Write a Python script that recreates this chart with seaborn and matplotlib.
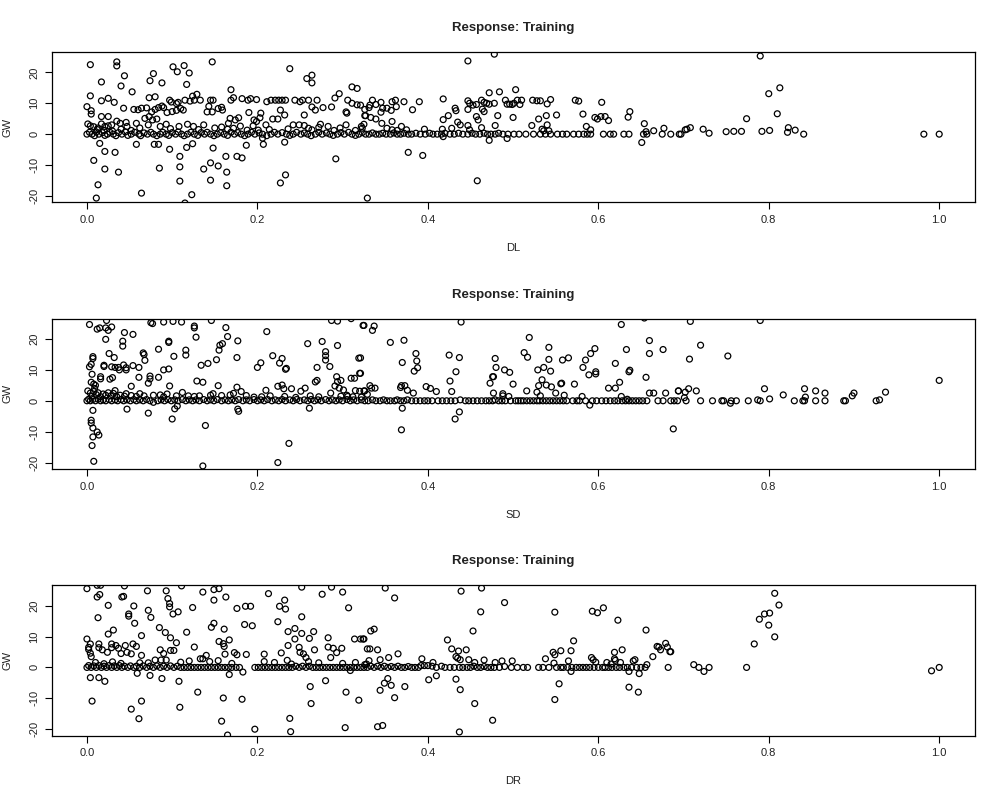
import matplotlib
matplotlib.use("Agg")
import matplotlib.pyplot as plt
import seaborn as sns
import pandas as pd

# ---- data: (predictor, GW) pairs ----
# panel 1: DL
dl_scatter = [
    (0.004, 22.5), (0.035, 23.4), (0.035, 22.1), (0.017, 16.9), (0.044, 18.9), (0.040, 15.6),
    (0.053, 13.7), (0.004, 12.4), (0.017, 10.8), (0.025, 11.6), (0.032, 10.3), (0.000, 8.9),
    (0.005, 7.6), (0.005, 6.5), (0.043, 8.4), (0.017, 5.7), (0.025, 5.7), (0.055, 8.0),
    (0.060, 7.9), (0.064, 8.4), (0.074, 17.3), (0.078, 19.6), (0.088, 16.6), (0.073, 11.8),
    (0.080, 12.1), (0.070, 8.5), (0.076, 7.2), (0.080, 8.0), (0.068, 5.1), (0.073, 5.7),
    (0.077, 4.6), (0.082, 4.9), (0.101, 21.8), (0.114, 22.2), (0.120, 19.8), (0.117, 16.1),
    (0.106, 20.2), (0.097, 11.0), (0.099, 10.4), (0.105, 9.9), (0.107, 10.3), (0.124, 12.3),
    (0.129, 12.9), (0.115, 11.0), (0.121, 10.7), (0.126, 11.0), (0.133, 11.0), (0.090, 8.6),
    (0.094, 7.0), (0.100, 7.3), (0.105, 7.7), (0.110, 8.3), (0.113, 7.8), (0.088, 9.1),
    (0.084, 8.6), (0.147, 23.4), (0.169, 14.4), (0.145, 11.0), (0.148, 11.0), (0.143, 9.0),
    (0.141, 7.2), (0.147, 7.2), (0.154, 8.3), (0.158, 8.7), (0.159, 7.8), (0.169, 11.0),
    (0.172, 11.8), (0.182, 11.5), (0.189, 11.0), (0.192, 11.5), (0.199, 11.2), (0.168, 5.1),
    (0.174, 4.6), (0.178, 5.3), (0.166, 3.5), (0.172, 1.9), (0.190, 7.0), (0.196, 4.6),
    (0.199, 4.1), (0.204, 6.8), (0.203, 5.3), (0.211, 10.5), (0.216, 11.0), (0.221, 11.0),
    (0.225, 11.0), (0.229, 11.0), (0.233, 11.0), (0.218, 4.9), (0.224, 4.9), (0.227, 7.8),
    (0.232, 6.2), (0.238, 21.2), (0.258, 18.0), (0.264, 19.1), (0.264, 16.6), (0.244, 11.0),
    (0.250, 10.5), (0.253, 11.0), (0.260, 11.0), (0.270, 11.0), (0.255, 6.2), (0.264, 8.8),
    (0.268, 7.8), (0.277, 8.6), (0.287, 8.8), (0.291, 11.7), (0.296, 13.1), (0.242, 3.0),
    (0.249, 3.0), (0.255, 2.8), (0.260, 1.9), (0.264, 1.4), (0.272, 2.2), (0.274, 3.2),
    (0.311, 15.3), (0.317, 14.8), (0.306, 11.0), (0.311, 10.0), (0.317, 9.5), (0.304, 7.2),
    (0.305, 6.8), (0.326, 6.0), (0.326, 8.0),
    (0.015, -3.0), (0.008, -8.5), (0.021, -5.6), (0.033, -5.9), (0.021, -11.3), (0.037, -12.3),
    (0.013, -16.4), (0.011, -20.7), (0.064, -19.1), (0.058, -3.3), (0.079, -3.3), (0.084, -3.3),
    (0.097, -4.9), (0.085, -11.0), (0.109, -7.2), (0.109, -10.6), (0.109, -15.2), (0.117, -4.3),
    (0.124, -3.1), (0.123, -19.6), (0.115, -22.3), (0.148, -4.5), (0.154, -10.3), (0.145, -9.3),
    (0.137, -11.3), (0.145, -14.9), (0.164, -12.3), (0.164, -16.7), (0.163, -7.2), (0.176, -7.2),
    (0.182, -7.7), (0.187, -3.6), (0.207, -3.3), (0.206, -1.3), (0.227, -15.8), (0.233, -13.2),
    (0.232, -2.6), (0.292, -8.0), (0.329, -20.7),
    (0.001, 3.3), (0.004, 2.7), (0.008, 2.4), (0.013, 2.0), (0.017, 3.3), (0.021, 2.5),
    (0.025, 2.7), (0.029, 3.0), (0.035, 4.2), (0.039, 3.5), (0.046, 3.8), (0.047, 2.5),
    (0.012, 1.5), (0.020, 1.2), (0.030, 1.0), (0.040, 1.6), (0.052, 1.2), (0.058, 3.5),
    (0.062, 2.0), (0.072, 3.0), (0.086, 2.5), (0.093, 3.2), (0.098, 1.8), (0.108, 2.5),
    (0.118, 3.2), (0.125, 2.5), (0.131, 1.5), (0.137, 3.0), (0.150, 2.0), (0.158, 2.3),
    (0.165, 1.6), (0.180, 2.6), (0.188, 1.3), (0.195, 2.7), (0.201, 1.3), (0.210, 3.0),
    (0.214, 1.5), (0.236, 1.7), (0.283, 2.5), (0.290, 1.2), (0.297, 2.0), (0.304, 3.0),
    (0.315, 1.2), (0.322, 2.5),
    (0.321, 9.4), (0.335, 11.0), (0.332, 9.4), (0.331, 8.6), (0.339, 9.6), (0.345, 10.3),
    (0.347, 8.4), (0.352, 8.4), (0.358, 10.5), (0.362, 11.0), (0.363, 8.9), (0.357, 7.7),
    (0.372, 10.5), (0.382, 7.9), (0.390, 10.5), (0.327, 6.0), (0.333, 5.4), (0.339, 4.9),
    (0.345, 7.1), (0.346, 3.5), (0.358, 4.1), (0.325, 3.2), (0.323, 1.9), (0.352, 1.9),
    (0.358, 1.4), (0.364, 1.2), (0.369, 2.5), (0.375, 1.4), (0.396, 1.6), (0.377, -5.9),
    (0.394, -6.9), (0.418, 11.4), (0.418, 4.7), (0.424, 6.0), (0.417, 1.6), (0.428, 1.9),
    (0.418, -0.8), (0.432, 8.4), (0.433, 7.6), (0.435, 3.9), (0.438, 3.0), (0.447, 23.7),
    (0.478, 25.9), (0.447, 10.8), (0.449, 10.0), (0.453, 9.4), (0.457, 9.6), (0.447, 8.0),
    (0.457, 5.7), (0.459, 4.6), (0.447, 2.8), (0.449, 1.4), (0.463, 2.1), (0.458, -15.1),
    (0.463, 11.0), (0.466, 10.3), (0.469, 10.0), (0.472, 9.7), (0.464, 8.1), (0.466, 7.3),
    (0.472, 13.4), (0.484, 13.7), (0.478, 10.0), (0.482, 6.0), (0.479, 2.8), (0.472, -2.0),
    (0.491, 11.0), (0.493, 9.7), (0.496, 9.7), (0.499, 9.6), (0.501, 10.0), (0.503, 14.4),
    (0.505, 11.0), (0.510, 11.0), (0.500, 5.4), (0.493, -1.4), (0.508, 9.6), (0.523, 11.0),
    (0.528, 10.8), (0.532, 10.8), (0.540, 9.8), (0.544, 11.2), (0.522, 2.8), (0.530, 4.9),
    (0.539, 6.0), (0.540, 3.0), (0.551, 6.2), (0.534, 1.6), (0.536, 1.1), (0.542, 1.1),
    (0.573, 11.0), (0.577, 10.7), (0.582, 6.5), (0.586, 2.5), (0.591, 1.4), (0.596, 5.4),
    (0.599, 4.9), (0.603, 5.7), (0.608, 5.7), (0.612, 4.4), (0.604, 10.3), (0.635, 5.5),
    (0.637, 7.3), (0.651, -2.7), (0.654, 3.4), (0.665, 1.1), (0.677, 1.9), (0.656, 0.8),
    (0.702, 1.4), (0.704, 1.6), (0.708, 2.1), (0.723, 1.6), (0.730, 0.3), (0.750, 0.8),
    (0.759, 0.9), (0.768, 0.9), (0.774, 5.0), (0.790, 25.3), (0.792, 0.9), (0.800, 13.1),
    (0.801, 1.2), (0.810, 6.6), (0.813, 15.0), (0.822, 0.6), (0.823, 2.1), (0.831, 1.3),
]
dl_band = [
    (0.000, 0.0), (0.003, 0.6), (0.006, 0.0), (0.009, -0.5), (0.011, 0.7), (0.014, 0.0),
    (0.018, 0.5), (0.021, -0.4), (0.024, 0.0), (0.027, 0.6), (0.031, 0.0), (0.034, -0.5),
    (0.037, 0.5), (0.041, 0.0), (0.045, 0.7), (0.048, -0.4), (0.052, 0.0), (0.056, 0.6),
    (0.061, 0.0), (0.063, -0.5), (0.067, 0.4), (0.071, 0.0), (0.075, 0.6), (0.078, 0.0),
    (0.082, -0.5), (0.086, 0.0), (0.089, 0.6), (0.093, 0.0), (0.096, -0.4), (0.100, 0.5),
    (0.104, 0.0), (0.107, 0.7), (0.111, 0.0), (0.114, -0.5), (0.118, 0.0), (0.122, 0.6),
    (0.126, 0.0), (0.130, -0.4), (0.134, 0.5), (0.138, 0.0), (0.141, 0.6), (0.145, 0.0),
    (0.149, -0.5), (0.153, 0.0), (0.157, 0.5), (0.161, 0.0), (0.165, -0.4), (0.169, 0.6),
    (0.173, 0.0), (0.177, 0.5), (0.181, 0.0), (0.185, -0.5), (0.189, 0.0), (0.193, 0.6),
    (0.197, 0.0), (0.202, 0.4), (0.206, 0.0), (0.211, -0.5), (0.216, 0.0), (0.220, 0.6),
    (0.224, 0.0), (0.229, 0.5), (0.234, 0.0), (0.238, -0.4), (0.242, 0.0), (0.246, 0.6),
    (0.251, 0.0), (0.255, 0.4), (0.259, 0.0), (0.263, -0.5), (0.268, 0.0), (0.272, 0.6),
    (0.276, 0.0), (0.281, 0.4), (0.285, 0.0), (0.289, -0.4), (0.294, 0.0), (0.298, 0.5),
    (0.302, 0.0), (0.307, 0.6), (0.311, 0.0), (0.315, -0.4), (0.319, 0.0), (0.323, 0.5),
    (0.327, 0.0), (0.331, 0.0), (0.335, 0.4), (0.339, 0.0), (0.343, 0.0), (0.347, 0.3),
    (0.351, 0.0), (0.356, 0.0), (0.360, 0.4), (0.364, 0.0), (0.368, 0.0), (0.372, 0.3),
    (0.377, 0.0), (0.381, 0.0), (0.386, 0.3), (0.391, 0.0), (0.397, 0.0), (0.402, 0.3),
    (0.406, 0.0), (0.411, 0.0), (0.416, 0.0), (0.420, 0.3), (0.426, 0.0), (0.431, 0.0),
    (0.436, 0.3), (0.441, 0.0), (0.447, 0.0), (0.452, 0.3), (0.456, 0.0), (0.461, 0.0),
    (0.466, 0.3), (0.470, 0.0), (0.474, 0.0), (0.479, 0.0), (0.483, 0.3), (0.488, 0.0),
    (0.494, 0.0), (0.501, 0.0), (0.507, 0.0), (0.515, 0.0), (0.524, 0.0), (0.532, 0.0),
    (0.538, 0.0), (0.544, 0.0), (0.552, 0.0), (0.558, 0.0), (0.563, 0.0), (0.571, 0.0),
    (0.577, 0.0), (0.583, 0.0), (0.587, 0.0), (0.591, 0.0), (0.606, 0.0), (0.614, 0.0),
    (0.618, 0.0), (0.630, 0.0), (0.636, 0.0), (0.653, 0.0), (0.657, 0.0), (0.675, 0.0),
    (0.685, 0.0), (0.695, 0.0), (0.697, 0.0), (0.841, 0.0), (0.982, 0.0), (1.000, 0.0),
]

# panel 2: SD
sd_scatter = [
    (0.003, 24.7), (0.023, 26.0), (0.012, 23.2), (0.015, 23.6), (0.022, 23.6), (0.025, 22.8),
    (0.029, 23.9), (0.022, 19.9), (0.044, 22.1), (0.054, 21.5), (0.042, 19.3), (0.042, 17.7),
    (0.026, 15.3), (0.032, 14.0), (0.007, 14.3), (0.007, 13.7), (0.005, 11.8), (0.003, 11.0),
    (0.006, 8.6), (0.005, 6.0), (0.008, 5.4), (0.010, 5.0), (0.020, 11.5), (0.020, 11.1),
    (0.029, 11.0), (0.033, 10.8), (0.037, 10.8), (0.043, 11.6), (0.046, 10.7), (0.046, 10.0),
    (0.038, 10.0), (0.054, 11.4), (0.061, 10.8), (0.016, 7.8), (0.016, 7.1), (0.027, 7.0),
    (0.030, 7.5), (0.033, 3.3), (0.052, 4.7), (0.061, 7.6), (0.066, 15.5), (0.067, 15.0),
    (0.068, 13.1), (0.075, 25.3), (0.077, 25.0), (0.074, 8.0), (0.074, 7.1), (0.072, 5.7),
    (0.084, 16.7), (0.084, 7.6), (0.090, 25.5), (0.096, 19.3), (0.096, 18.9), (0.090, 10.0),
    (0.096, 10.3), (0.101, 25.7), (0.102, 14.4), (0.097, 4.8), (0.111, 25.5), (0.116, 16.4),
    (0.116, 14.8), (0.126, 24.2), (0.126, 23.6), (0.128, 20.6), (0.134, 11.5), (0.142, 12.1),
    (0.129, 6.4), (0.136, 6.0), (0.146, 26.0), (0.163, 23.7), (0.165, 20.8), (0.159, 18.5),
    (0.156, 18.0), (0.155, 16.4), (0.152, 13.3), (0.154, 4.9), (0.177, 19.4), (0.176, 14.0),
    (0.176, 4.4), (0.181, 3.0), (0.200, 10.8), (0.204, 12.3), (0.211, 22.4), (0.210, 3.4),
    (0.218, 14.6), (0.226, 12.2), (0.229, 13.7), (0.233, 10.2), (0.234, 10.5), (0.224, 4.7),
    (0.229, 5.1), (0.231, 3.9), (0.240, 3.9), (0.251, 3.1), (0.256, 4.1), (0.259, 18.5),
    (0.276, 19.2), (0.280, 15.9), (0.280, 14.6), (0.280, 13.2), (0.285, 11.1), (0.294, 17.9),
    (0.294, 25.8), (0.287, 26.0), (0.270, 10.8), (0.270, 6.6), (0.268, 6.1), (0.293, 7.8),
    (0.294, 6.2), (0.298, 6.6), (0.291, 4.8), (0.296, 4.1), (0.310, 26.6), (0.319, 13.8),
    (0.320, 8.9), (0.310, 7.3), (0.314, 7.3), (0.324, 24.4), (0.315, 3.3), (0.320, 3.1),
    (0.326, 3.2), (0.301, 3.5), (0.306, 1.4),
    (0.007, -3.1), (0.005, -6.3), (0.005, -7.2), (0.007, -8.8), (0.012, -10.1), (0.014, -11.1),
    (0.007, -11.7), (0.006, -14.5), (0.008, -19.6), (0.047, -2.7), (0.072, -4.0), (0.100, -5.9),
    (0.103, -2.6), (0.106, -1.7), (0.139, -8.0), (0.136, -21.1), (0.177, -2.7), (0.178, -3.4),
    (0.261, -2.4), (0.237, -13.8), (0.224, -20.0),
    (0.001, 3.2), (0.004, 2.5), (0.006, 1.5), (0.009, 4.0), (0.008, 3.0), (0.011, 2.0),
    (0.013, 2.6), (0.016, 1.3), (0.019, 2.2), (0.022, 1.8), (0.025, 2.6), (0.028, 1.6),
    (0.031, 2.4), (0.035, 1.3), (0.039, 1.8), (0.044, 1.5), (0.046, 2.3), (0.052, 1.7),
    (0.058, 1.4), (0.062, 2.3), (0.067, 1.6), (0.078, 1.8), (0.086, 1.9), (0.090, 1.3),
    (0.094, 2.2), (0.105, 1.6), (0.112, 2.7), (0.119, 1.6), (0.126, 1.4), (0.132, 1.6),
    (0.145, 1.8), (0.148, 2.3), (0.158, 1.7), (0.168, 1.9), (0.172, 2.4), (0.187, 1.7),
    (0.196, 1.2), (0.205, 1.3), (0.215, 1.6), (0.232, 1.4), (0.245, 1.1), (0.262, 1.6),
    (0.272, 1.3), (0.286, 2.5), (0.298, 1.5), (0.305, 1.8), (0.312, 1.3), (0.322, 1.2),
    (0.325, 24.4), (0.335, 22.8), (0.337, 24.2), (0.439, 25.5), (0.356, 18.9), (0.372, 19.6),
    (0.370, 12.4), (0.386, 15.3), (0.387, 12.9), (0.388, 10.7), (0.384, 9.6), (0.321, 13.9),
    (0.321, 8.9), (0.332, 4.9), (0.334, 4.1), (0.338, 4.1), (0.325, 3.2), (0.329, 2.1),
    (0.369, 4.9), (0.373, 4.9), (0.368, 4.3), (0.376, 3.4), (0.383, 2.5), (0.398, 4.6),
    (0.403, 4.0), (0.410, 3.0), (0.425, 14.8), (0.437, 14.0), (0.433, 9.4), (0.426, 6.4),
    (0.428, 3.0), (0.432, -5.9), (0.437, -3.6), (0.370, -2.4), (0.369, -9.4), (0.479, 13.7),
    (0.480, 10.8), (0.476, 7.8), (0.477, 7.8), (0.473, 5.7), (0.477, 2.5), (0.488, 2.3),
    (0.488, 1.6), (0.495, 1.4), (0.490, 10.0), (0.496, 9.2), (0.500, 5.4), (0.513, 15.6),
    (0.517, 14.1), (0.519, 20.5), (0.516, 3.2), (0.529, 10.0), (0.536, 10.8), (0.542, 17.3),
    (0.542, 13.4), (0.544, 9.6), (0.534, 6.8), (0.530, 4.9), (0.539, 5.1), (0.545, 4.5),
    (0.528, 2.8), (0.532, 1.6), (0.556, 5.5), (0.557, 5.7), (0.550, 2.5), (0.560, 1.8),
    (0.558, 13.2), (0.565, 13.9), (0.572, 5.4), (0.582, 10.8), (0.585, 13.2), (0.589, 8.4),
    (0.591, 15.3), (0.596, 16.9), (0.597, 9.4), (0.597, 8.7), (0.590, -1.4), (0.581, 1.4),
    (0.612, 4.1), (0.620, 4.1), (0.620, 12.1), (0.625, 6.0), (0.627, 24.7), (0.633, 16.6),
    (0.636, 9.4), (0.637, 9.9), (0.627, 1.4), (0.634, 0.5), (0.654, 26.8), (0.660, 19.5),
    (0.660, 15.3), (0.656, 7.6), (0.660, 2.5), (0.665, 2.5), (0.676, 16.6), (0.679, 2.5),
    (0.688, -9.1), (0.694, 3.2),
    (0.694, 3.2), (0.702, 2.8), (0.706, 3.9), (0.701, 1.0), (0.715, 3.2), (0.708, 25.7),
    (0.720, 18.0), (0.707, 13.5), (0.752, 14.5), (0.755, -0.8), (0.790, 26.0), (0.795, 3.9),
    (0.801, 0.6), (0.817, 1.9), (0.842, 3.9), (0.843, 1.2), (0.855, 3.2), (0.866, 2.5),
    (0.898, 1.6), (0.900, 2.5), (0.930, 0.3), (0.937, 2.8), (1.000, 6.6),
]
sd_band = [
    (0.000, 0.0), (0.002, 0.5), (0.004, 0.0), (0.007, 0.4), (0.010, 0.0), (0.013, 0.5),
    (0.016, 0.0), (0.019, 0.3), (0.022, 0.0), (0.026, 0.4), (0.029, 0.0), (0.033, 0.3),
    (0.036, 0.0), (0.040, 0.4), (0.043, 0.0), (0.047, 0.3), (0.051, 0.0), (0.055, 0.4),
    (0.058, 0.0), (0.062, 0.3), (0.066, 0.0), (0.070, 0.4), (0.074, 0.0), (0.078, -0.5),
    (0.083, 0.0), (0.087, 0.3), (0.091, 0.0), (0.095, 0.4), (0.099, 0.0), (0.103, 0.3),
    (0.107, 0.0), (0.112, 0.4), (0.116, 0.0), (0.120, 0.3), (0.124, 0.0), (0.128, 0.3),
    (0.132, 0.0), (0.137, 0.4), (0.141, 0.0), (0.145, 0.3), (0.149, 0.0), (0.153, 0.4),
    (0.158, 0.0), (0.162, 0.3), (0.166, 0.0), (0.170, 0.3), (0.174, 0.0), (0.178, 0.4),
    (0.183, 0.0), (0.187, 0.3), (0.191, 0.0), (0.196, 0.4), (0.200, 0.0), (0.204, 0.3),
    (0.208, 0.0), (0.212, 0.4), (0.217, 0.0), (0.221, 0.3), (0.225, 0.0), (0.229, 0.4),
    (0.233, 0.0), (0.238, 0.3), (0.242, 0.0), (0.246, 0.4), (0.250, 0.0), (0.255, 0.3),
    (0.259, 0.0), (0.263, 0.4), (0.267, 0.0), (0.271, 0.3), (0.275, 0.0), (0.280, 0.4),
    (0.284, 0.0), (0.288, 0.3), (0.292, 0.0), (0.296, 0.3), (0.300, 0.0), (0.305, 0.4),
    (0.309, 0.0), (0.313, 0.3), (0.317, 0.0), (0.322, 0.3), (0.326, 0.0), (0.330, 0.0),
    (0.335, 0.3), (0.339, 0.0), (0.344, 0.0), (0.348, 0.3), (0.352, 0.0), (0.356, 0.0),
    (0.361, 0.0), (0.364, 0.3), (0.368, 0.0), (0.372, 0.0), (0.376, 0.3), (0.381, 0.0),
    (0.386, 0.0), (0.391, 0.0), (0.396, 0.0), (0.400, 0.0), (0.405, 0.0), (0.412, 0.0),
    (0.417, 0.0), (0.422, 0.0), (0.427, 0.0), (0.432, 0.0), (0.438, 0.3), (0.444, 0.0),
    (0.448, 0.0), (0.453, 0.0), (0.458, 0.0), (0.463, 0.0), (0.468, 0.0), (0.472, 0.0),
    (0.476, 0.0), (0.479, 0.3), (0.483, 0.0), (0.487, 0.0), (0.491, 0.0), (0.497, 0.0),
    (0.503, 0.0), (0.506, 0.0), (0.509, 0.0), (0.512, 0.0), (0.516, 0.0), (0.520, 0.0),
    (0.524, 0.0), (0.528, 0.0), (0.531, 0.0), (0.535, 0.0), (0.539, 0.0), (0.543, 0.0),
    (0.547, 0.0), (0.551, 0.0), (0.555, 0.0), (0.559, 0.0), (0.563, 0.0), (0.570, 0.0),
    (0.575, 0.0), (0.578, 0.0), (0.585, 0.0), (0.593, 0.0), (0.598, 0.0), (0.604, 0.0),
    (0.609, 0.0), (0.614, 0.0), (0.619, 0.0), (0.623, 0.0), (0.628, 0.0), (0.632, 0.0),
    (0.636, 0.0), (0.640, 0.0), (0.644, 0.0), (0.648, 0.0), (0.652, 0.0), (0.657, 0.0),
    (0.670, 0.0), (0.676, 0.0), (0.685, 0.0), (0.689, 0.0), (0.693, 0.0), (0.703, 0.0),
    (0.720, 0.0), (0.734, 0.0), (0.745, 0.0), (0.747, 0.0), (0.756, 0.0), (0.762, 0.0),
    (0.776, 0.0), (0.787, 0.3), (0.790, 0.0), (0.830, 0.0), (0.840, 0.0), (0.842, 0.0),
    (0.855, 0.0), (0.866, 0.0), (0.888, 0.0), (0.890, 0.0), (0.926, 0.0),
]

# panel 3: DR
dr_scatter = [
    (0.000, 25.5), (0.012, 26.6), (0.016, 26.6), (0.012, 22.8), (0.015, 23.6), (0.025, 20.1),
    (0.013, 16.1), (0.025, 10.8), (0.031, 12.1), (0.000, 9.2), (0.004, 7.6), (0.002, 6.5),
    (0.002, 5.8), (0.004, 4.6), (0.005, 3.5), (0.014, 7.6), (0.014, 6.4), (0.018, 5.7),
    (0.024, 4.9), (0.029, 7.6), (0.029, 6.4), (0.034, 7.1), (0.037, 6.2), (0.040, 4.5),
    (0.045, 7.1), (0.047, 4.9), (0.052, 4.4), (0.054, 7.6), (0.041, 22.8), (0.043, 23.0),
    (0.044, 26.4), (0.049, 17.3), (0.049, 16.6), (0.056, 14.3), (0.055, 19.9), (0.064, 10.3),
    (0.071, 24.8), (0.072, 18.5), (0.075, 16.2), (0.093, 24.8), (0.095, 22.3), (0.097, 20.7),
    (0.097, 19.6), (0.101, 17.3), (0.107, 18.0), (0.111, 26.4), (0.124, 19.4), (0.085, 12.9),
    (0.092, 11.3), (0.098, 9.6), (0.105, 8.0), (0.117, 11.4), (0.086, 5.7), (0.090, 4.5),
    (0.098, 5.5), (0.102, 5.5), (0.064, 3.9), (0.058, 6.8), (0.072, 1.5), (0.080, 2.4),
    (0.087, 2.4), (0.093, 2.4), (0.126, 6.6), (0.136, 24.4), (0.149, 25.2), (0.149, 21.8),
    (0.163, 22.8), (0.155, 25.5), (0.146, 13.0), (0.149, 14.3), (0.161, 12.4), (0.155, 8.4),
    (0.160, 7.7), (0.161, 6.8), (0.167, 8.9), (0.162, 4.3), (0.173, 4.8), (0.176, 4.1),
    (0.154, 2.2), (0.144, 1.9), (0.140, 3.9), (0.136, 2.8), (0.133, 2.8), (0.176, 19.1),
    (0.186, 19.8), (0.192, 19.8), (0.185, 13.9), (0.194, 13.5), (0.187, 4.2), (0.213, 23.9),
    (0.226, 19.8), (0.233, 18.9), (0.232, 21.8), (0.224, 14.8), (0.236, 11.6), (0.244, 12.6),
    (0.252, 16.4), (0.252, 26.0), (0.252, 11.0), (0.244, 9.2), (0.236, 7.1), (0.228, 4.7),
    (0.235, 2.3), (0.208, 4.3), (0.208, 1.9), (0.249, 6.5), (0.250, 4.9), (0.254, 4.4),
    (0.266, 11.6), (0.261, 9.4), (0.267, 5.7), (0.257, 3.2), (0.260, 1.9), (0.276, 23.7),
    (0.287, 26.0), (0.300, 24.4), (0.307, 19.3), (0.283, 9.6), (0.283, 6.6), (0.289, 6.2),
    (0.293, 4.8), (0.299, 6.2), (0.286, 3.2), (0.314, 9.2), (0.321, 9.2), (0.325, 9.2),
    (0.329, 6.0), (0.326, 0.9), (0.010, 1.6), (0.020, 1.2), (0.030, 1.8), (0.040, 1.3),
    (0.062, 1.5), (0.110, 1.7), (0.120, 2.1), (0.170, 1.3), (0.220, 1.6), (0.240, 1.1),
    (0.272, 1.5), (0.300, 1.3), (0.315, 1.6),
    (0.004, -3.3), (0.014, -3.3), (0.021, -4.5), (0.006, -10.9), (0.052, -13.5), (0.059, -1.9),
    (0.064, -10.9), (0.061, -16.6), (0.074, -2.6), (0.088, -3.6), (0.108, -4.5), (0.109, -12.9),
    (0.130, -8.0), (0.160, -9.9), (0.158, -17.4), (0.165, -21.9), (0.167, -2.3), (0.183, -1.5),
    (0.182, -10.3), (0.197, -20.0), (0.238, -16.5), (0.239, -20.8), (0.262, -6.2), (0.263, -11.7),
    (0.280, -4.3), (0.304, -8.0), (0.319, -10.6), (0.303, -19.5), (0.309, -1.0),
    (0.350, 25.7), (0.361, 22.5), (0.333, 11.8), (0.337, 12.4), (0.324, 9.2), (0.332, 6.0),
    (0.341, 5.7), (0.365, 4.4), (0.354, 3.2), (0.344, 2.5), (0.331, 2.2), (0.328, 1.1),
    (0.344, -7.4), (0.349, -5.1), (0.353, -3.6), (0.357, -5.8), (0.361, -9.8), (0.373, -6.2),
    (0.341, -19.2), (0.347, -18.8), (0.393, 2.8), (0.406, 1.6), (0.401, -4.0), (0.410, -2.7),
    (0.439, 24.7), (0.463, 25.7), (0.462, 18.0), (0.453, 11.8), (0.490, 21.0), (0.423, 8.9),
    (0.428, 6.0), (0.436, 5.3), (0.445, 5.7), (0.433, 3.5), (0.435, 3.0), (0.438, 2.5),
    (0.448, 2.5), (0.455, 1.6), (0.466, 2.4), (0.479, 1.6), (0.487, 2.1), (0.499, 2.1),
    (0.433, -3.8), (0.438, -7.2), (0.455, -11.7), (0.476, -17.1), (0.437, -20.9),
    (0.549, 17.9), (0.547, 4.9), (0.549, 4.1), (0.556, 5.4), (0.538, 2.8), (0.548, 1.4),
    (0.554, -5.3), (0.549, -10.4), (0.565, 2.1), (0.568, 5.4), (0.571, 8.6), (0.568, -1.3),
    (0.593, 18.2), (0.599, 17.7), (0.606, 19.3), (0.623, 15.3), (0.619, 4.9), (0.619, 2.8),
    (0.620, 2.3), (0.628, 5.7), (0.592, 3.2), (0.594, 2.5), (0.597, 1.7), (0.610, 1.6),
    (0.615, 1.1), (0.626, 1.6), (0.641, 2.1), (0.643, 2.5), (0.636, -1.3), (0.636, -6.4),
    (0.647, -8.0), (0.648, -2.0), (0.656, 12.1), (0.657, 0.9), (0.664, 3.5), (0.669, 6.8),
    (0.671, 6.6), (0.673, 5.7), (0.679, 7.8), (0.681, 6.6), (0.684, 5.1),
    (0.685, 5.1), (0.712, 0.9), (0.724, -1.3), (0.783, 7.6), (0.789, 15.6), (0.795, 17.3),
    (0.801, 17.6), (0.800, 13.7), (0.807, 24.0), (0.812, 20.2), (0.807, 9.9), (0.991, -1.1),
]
dr_band = [
    (0.000, 0.0), (0.002, 0.6), (0.005, 0.0), (0.008, 0.5), (0.011, 0.0), (0.014, 0.6),
    (0.017, 0.0), (0.020, 0.4), (0.023, 0.0), (0.026, 0.6), (0.029, 0.0), (0.032, 0.5),
    (0.035, 0.0), (0.038, 0.6), (0.041, 0.0), (0.044, 0.4), (0.048, 0.0), (0.051, 0.5),
    (0.055, 0.0), (0.058, 0.4), (0.062, 0.0), (0.066, 0.5), (0.070, 0.0), (0.074, 0.4),
    (0.078, 0.0), (0.082, 0.5), (0.086, 0.0), (0.090, 0.4), (0.094, 0.0), (0.098, 0.5),
    (0.102, 0.0), (0.106, 0.4), (0.110, 0.0), (0.114, 0.0), (0.118, 0.0), (0.122, 0.0),
    (0.126, 0.0), (0.130, 0.0), (0.134, 0.0), (0.138, 0.0), (0.142, 0.0), (0.146, 0.0),
    (0.150, 0.0), (0.154, 0.0), (0.158, 0.0), (0.162, 0.0), (0.166, 0.0), (0.170, 0.0),
    (0.175, 0.0), (0.179, 0.0), (0.197, 0.0), (0.201, 0.0), (0.205, 0.0), (0.209, 0.0),
    (0.213, 0.0), (0.217, 0.0), (0.221, 0.0), (0.225, 0.0), (0.229, 0.0), (0.233, 0.0),
    (0.237, 0.0), (0.241, 0.0), (0.245, 0.4), (0.249, 0.0), (0.253, 0.4), (0.257, 0.0),
    (0.261, 0.4), (0.265, 0.0), (0.269, 0.0), (0.273, 0.0), (0.277, 0.0), (0.281, 0.0),
    (0.285, 0.0), (0.289, 0.0), (0.293, 0.0), (0.297, 0.0), (0.301, 0.0), (0.305, 0.0),
    (0.309, 0.0), (0.313, 0.0), (0.317, 0.0), (0.321, 0.0), (0.325, 0.0), (0.329, 0.0),
    (0.333, 0.4), (0.337, 0.0), (0.341, 0.4), (0.345, 0.0), (0.349, 0.4), (0.353, 0.0),
    (0.357, 0.3), (0.361, 0.0), (0.365, 0.4), (0.369, 0.0), (0.373, 0.0), (0.377, 0.3),
    (0.381, 0.0), (0.385, 0.0), (0.389, 0.0), (0.392, 0.6), (0.396, 0.6), (0.400, 0.6),
    (0.405, 0.4), (0.410, 0.0), (0.416, 0.4), (0.420, 0.0), (0.426, 0.0), (0.431, 0.0),
    (0.437, 0.0), (0.441, 0.0), (0.446, 0.0), (0.450, 0.0), (0.454, 0.4), (0.458, 0.0),
    (0.462, 0.0), (0.466, 0.3), (0.470, 0.0), (0.474, 0.0), (0.478, 0.0), (0.484, 0.0),
    (0.490, 0.3), (0.498, 0.0), (0.505, 0.0), (0.512, 0.0), (0.517, 0.0), (0.530, 0.0),
    (0.535, 0.0), (0.542, 0.0), (0.551, 0.0), (0.556, 0.0), (0.559, 0.0), (0.564, 0.0),
    (0.569, 0.0), (0.574, 0.0), (0.578, 0.0), (0.582, 0.0), (0.586, 0.0), (0.590, 0.0),
    (0.595, 0.0), (0.600, 0.0), (0.605, 0.0), (0.608, 0.0), (0.612, 0.0), (0.616, 0.0),
    (0.621, 0.0), (0.625, 0.0), (0.630, 0.0), (0.634, 0.0), (0.639, 0.0), (0.645, 0.0),
    (0.650, 0.0), (0.655, 0.0), (0.682, 0.0), (0.718, 0.0), (0.730, 0.0), (0.774, 0.0),
    (1.000, 0.0),
]

panel_vars = ["DL", "SD", "DR"]
panel_points = [dl_scatter + dl_band, sd_scatter + sd_band, dr_scatter + dr_band]
x_ticks = [0.0, 0.2, 0.4, 0.6, 0.8, 1.0]
y_ticks = [-20, -10, 0, 10, 20]
title = "Response: Training"

sns.set_style("white")
plt.rcParams["font.family"] = ["Liberation Sans", "DejaVu Sans"]

fig = plt.figure(figsize=(10, 8), dpi=100)
bottoms = [0.747, 0.4137, 0.0804]

for var, pts, b in zip(panel_vars, panel_points, bottoms):
    ax = fig.add_axes([0.052, b, 0.923, 0.188])
    df = pd.DataFrame(pts, columns=[var, "GW"])
    sns.scatterplot(data=df, x=var, y="GW", ax=ax, marker="o", s=18,
                    facecolor="none", edgecolor="black", linewidth=0.9,
                    legend=False)
    ax.set_xlim(-0.041, 1.042)
    ax.set_ylim(-22.1, 26.6)
    ax.set_xticks(x_ticks)
    ax.set_xticklabels([f"{t:.1f}" for t in x_ticks])
    ax.set_yticks(y_ticks)
    ax.set_yticklabels([str(t) for t in y_ticks], rotation=90, va="center")
    ax.tick_params(axis="both", direction="out", length=5, width=0.8,
                   labelsize=8, color="black", labelcolor="#222222", pad=4,
                   bottom=True, left=True)
    for sp in ax.spines.values():
        sp.set_visible(True)
        sp.set_color("black")
        sp.set_linewidth(0.9)
    ax.set_xlabel(var, fontsize=8, color="#222222", labelpad=13)
    ax.set_ylabel("GW", fontsize=8, color="#222222", labelpad=12)
    ax.set_title(title, fontsize=9.5, fontweight="bold", color="#222222", pad=15)

fig.savefig("out.png", dpi=100, facecolor="white")
